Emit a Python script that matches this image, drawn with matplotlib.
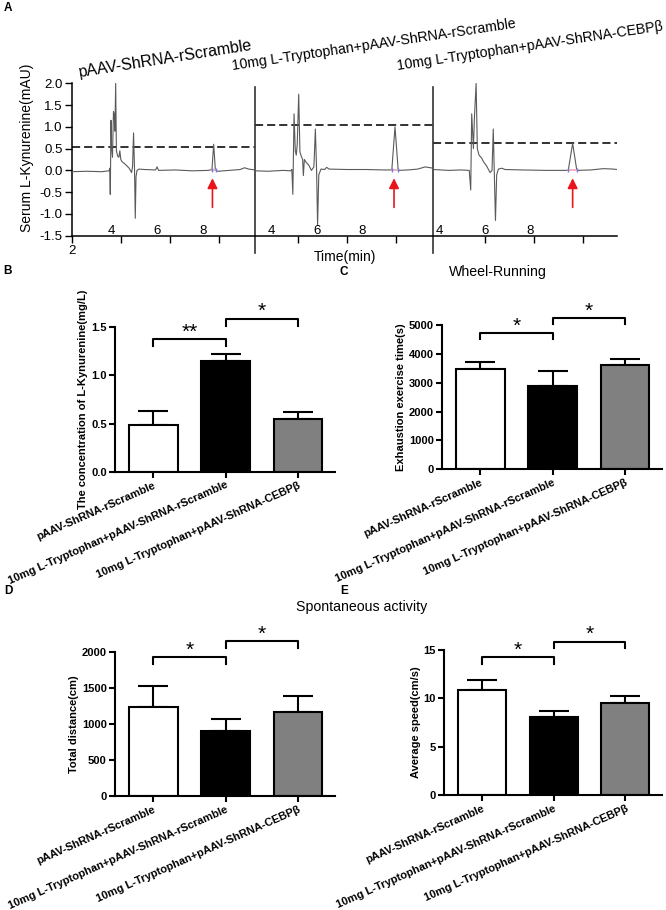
import matplotlib.pyplot as plt
import numpy as np

plt.rcParams['font.family'] = ['Liberation Sans', 'DejaVu Sans']

W, H = 666, 910

groups = ["pAAV-ShRNA-rScramble",
          "10mg L-Tryptophan+pAAV-ShRNA-rScramble",
          "10mg L-Tryptophan+pAAV-ShRNA-CEBPβ"]
bar_colors = ['white', 'black', '#808080']

# ---- panel A: HPLC traces, run time (min) per sample, signal (mAU)
seg_offsets = [0.0, 7.2, 14.86]

t1 = [2.0, 2.6, 3.2, 3.50, 3.53, 3.55, 3.58, 3.60, 3.64, 3.68, 3.71, 3.74, 3.77,
      3.80, 3.85, 3.90, 3.94, 3.98, 4.03, 4.10, 4.20, 4.32, 4.42, 4.46, 4.50, 4.54,
      4.57, 4.60, 4.64, 4.72, 4.95, 5.40, 5.46, 5.52, 6.2, 6.9, 7.55, 7.70, 7.77,
      7.84, 7.95, 8.4, 8.85, 9.03, 9.2, 9.46]
v1 = [-0.03, -0.02, -0.03, -0.01, 0.05, -0.55, 1.15, 0.55, 0.3, 1.35, 1.3, 0.9, 2.0,
      0.45, 0.33, 0.3, 0.45, 0.25, 0.2, 0.17, 0.12, 0.05, -0.05, 0.1, 0.86, 0.0,
      -1.1, -0.15, 0.0, 0.03, 0.02, 0.01, 0.08, 0.0, 0.01, -0.01, 0.0, 0.02, 0.6,
      0.0, -0.02, 0.0, 0.02, 0.06, 0.03, 0.01]

t2 = [2.26, 2.8, 3.4, 3.72, 3.76, 3.80, 3.85, 3.90, 3.94, 3.98, 4.04, 4.09, 4.15,
      4.20, 4.23, 4.27, 4.35, 4.45, 4.56, 4.66, 4.72, 4.77, 4.81, 4.86, 4.95, 5.10,
      5.18, 5.28, 6.0, 6.8, 7.5, 7.84, 7.97, 8.10, 8.5, 8.9, 9.2, 9.53]
v2 = [-0.01, -0.02, 0.0, -0.01, 0.02, -0.55, 1.3, 0.45, 0.35, 0.6, 1.75, 0.42, 0.32,
      0.25, -0.12, 0.25, 0.18, 0.12, 0.0, 0.08, 0.95, 0.0, -1.25, -0.1, 0.03, 0.02,
      0.07, 0.03, 0.02, 0.02, 0.01, 0.01, 1.0, 0.0, 0.01, 0.03, 0.08, 0.05]

t3 = [1.87, 2.5, 3.0, 3.34, 3.40, 3.44, 3.51, 3.55, 3.62, 3.67, 3.74, 3.85, 3.92,
      4.05, 4.19, 4.27, 4.32, 4.36, 4.41, 4.46, 4.53, 4.67, 4.80, 5.5, 6.5, 7.38,
      7.56, 7.73, 8.3, 8.81, 9.22, 9.37]
v3 = [0.02, 0.0, 0.01, 0.0, -0.45, 1.3, 0.5, 1.2, 2.0, 0.5, 0.35, 0.28, 0.2,
      0.1, -0.05, 0.0, 0.95, 0.0, -1.15, -0.1, 0.03, 0.05, 0.02, 0.01, 0.0, 0.0,
      0.62, 0.0, 0.01, 0.04, 0.03, 0.02]

traces_t = [t1, t2, t3]
traces_v = [v1, v2, v3]
dash_levels = [0.53, 1.04, 0.62]
arrow_times = [7.72, 7.93, 7.56]
peak_start = [7.70, 7.84, 7.38]
peak_end = [7.86, 8.10, 7.72]
a_ticks_local = [4, 6, 8]
a_text_ticks = [3.61, 5.45, 7.33, 10.11, 11.98, 13.81, 16.98, 18.85, 20.68]
a_text_labels = ['4', '6', '8'] * 3

# ---- panels B-E: mean and SEM per group
kyn_mean = [0.49, 1.15, 0.545]
kyn_sem = [0.14, 0.075, 0.075]
wheel_mean = [3490, 2890, 3615]
wheel_sem = [240, 515, 220]
dist_mean = [1230, 905, 1170]
dist_sem = [290, 162, 216]
speed_mean = [10.85, 8.1, 9.5]
speed_sem = [1.0, 0.62, 0.75]

kyn_brackets = [(0, 1, 1.38, '**'), (1, 2, 1.59, '*')]
wheel_brackets = [(0, 1, 4712, '*'), (1, 2, 5232, '*')]
dist_brackets = [(0, 1, 1921, '*'), (1, 2, 2148, '*')]
speed_brackets = [(0, 1, 14.24, '*'), (1, 2, 15.86, '*')]


def fx(x):
    return x / W


def fy(y):
    return 1 - y / H


fig = plt.figure(figsize=(W / 100, H / 100), dpi=100)

# ---------------- panel A
axA = fig.add_axes([fx(72.3), fy(235.7), 544.7 / W, (235.7 - 83.3) / H])
for i in range(3):
    off = seg_offsets[i]
    tt = np.array(traces_t[i]) + off
    axA.plot(tt, traces_v[i], color='#5a5a5a', lw=0.8, zorder=3)
    axA.plot([tt[0], tt[-1]], [dash_levels[i]] * 2, color='#222222', lw=1.3,
             dashes=(4.5, 2.2), zorder=2)
    axA.plot([peak_start[i] + off, peak_end[i] + off], [0, 0], color='#f4a6b4', lw=1.2, zorder=4)
    axA.plot([peak_start[i] + off, peak_end[i] + off], [0, 0], '|', color='#6f7fe0', ms=3, zorder=5)
    axA.annotate('', xy=(arrow_times[i] + off, -0.18), xytext=(arrow_times[i] + off, -0.85),
                 arrowprops=dict(arrowstyle='-|>', color='#e8161b', lw=1.2,
                                 mutation_scale=15, shrinkA=0, shrinkB=0))
    if i > 0:
        axA.axvline(tt[0], ymin=-0.111, ymax=0.977, color='#333333', lw=1.2, clip_on=False)

xt = [2.0] + [off + t for off in seg_offsets for t in a_ticks_local]
axA.set_xticks(xt)
axA.set_xticklabels(['2'] + [''] * (len(xt) - 1), fontsize=9.5)
for x, s in zip(a_text_ticks, a_text_labels):
    axA.text(x, -1.385, s, ha='center', va='center', fontsize=9.5)
axA.set_xlim(2.0, 24.23)
axA.set_ylim(-1.5, 2.0)
axA.set_yticks(np.arange(-1.5, 2.01, 0.5))
axA.set_yticklabels(['%.1f' % v for v in np.arange(-1.5, 2.01, 0.5)], fontsize=9.5)
for s in ['top', 'right']:
    axA.spines[s].set_visible(False)
for s in ['left', 'bottom']:
    axA.spines[s].set_linewidth(1.1)
axA.tick_params(length=5, width=1.0, pad=2)

fig.text(fx(27), fy(148), 'Serum L-Kynurenine(mAU)', rotation=90, ha='center', va='center', fontsize=10)
fig.text(fx(345), fy(257), 'Time(min)', ha='center', va='center', fontsize=10)
fig.text(fx(79), fy(77), groups[0], rotation=9, rotation_mode='anchor', ha='left', va='baseline', fontsize=11.5)
fig.text(fx(233), fy(70), groups[1], rotation=8.5, rotation_mode='anchor', ha='left', va='baseline', fontsize=10.2)
fig.text(fx(398), fy(70), groups[2], rotation=8.5, rotation_mode='anchor', ha='left', va='baseline', fontsize=10.2)


def bar_panel(ax, means, sems, ymax, ystep, fmt, ylabel, brackets, drop):
    x = np.arange(len(means))
    ax.bar(x, means, width=0.67, color=bar_colors, edgecolor='black', linewidth=1.5, zorder=2)
    ax.errorbar(x, means, yerr=[np.zeros(len(sems)), sems], fmt='none', ecolor='black',
                elinewidth=1.5, capsize=11, capthick=1.5, zorder=1)
    for i, j, y, lbl in brackets:
        ax.plot([i, i, j, j], [y - drop, y, y, y - drop], color='black', lw=1.5, clip_on=False)
        ax.annotate(lbl, xy=((i + j) / 2, y), xytext=(0, 1), textcoords='offset points',
                    ha='center', va='baseline', fontsize=15, annotation_clip=False)
    ax.set_xlim(-0.53, 2.51)
    ax.set_ylim(0, ymax)
    ticks = np.arange(0, ymax + ystep / 2, ystep)
    ax.set_yticks(ticks)
    ax.set_yticklabels([fmt % v for v in ticks], fontsize=8, fontweight='bold')
    ax.set_xticks(x)
    ax.set_xticklabels(groups, rotation=24, ha='right', rotation_mode='anchor',
                       fontsize=8, fontweight='bold')
    ax.set_ylabel(ylabel, fontsize=8, fontweight='bold', labelpad=2)
    for s in ['top', 'right']:
        ax.spines[s].set_visible(False)
    for s in ['left', 'bottom']:
        ax.spines[s].set_linewidth(1.5)
    ax.tick_params(length=4, width=1.5, pad=2)


axB = fig.add_axes([fx(115), fy(471.7), 220 / W, 144.4 / H])
bar_panel(axB, kyn_mean, kyn_sem, 1.5, 0.5, '%.1f',
          'The concentration of L-Kynurenine(mg/L)', kyn_brackets, 0.075)
axC = fig.add_axes([fx(442), fy(469.3), 220 / W, 144.3 / H])
bar_panel(axC, wheel_mean, wheel_sem, 5000, 1000, '%d',
          'Exhaustion exercise time(s)', wheel_brackets, 200)
axD = fig.add_axes([fx(115), fy(796), 220 / W, 144.3 / H])
bar_panel(axD, dist_mean, dist_sem, 2000, 500, '%d',
          'Total distance(cm)', dist_brackets, 92)
axE = fig.add_axes([fx(444), fy(795), 218 / W, 145 / H])
bar_panel(axE, speed_mean, speed_sem, 15, 5, '%d',
          'Average speed(cm/s)', speed_brackets, 0.7)

# panel letters and titles
for lx, ly, s in [(8, 8, 'A'), (8, 271, 'B'), (344, 272, 'C'), (8, 591, 'D'), (344, 591, 'E')]:
    fig.text(fx(lx), fy(ly), s, ha='center', va='center', fontsize=8.5, fontweight='bold')
fig.text(fx(498), fy(272), 'Wheel-Running', ha='center', va='center', fontsize=10.2)
fig.text(fx(362), fy(607), 'Spontaneous activity', ha='center', va='center', fontsize=10.2)

fig.savefig('out.png', dpi=100)
